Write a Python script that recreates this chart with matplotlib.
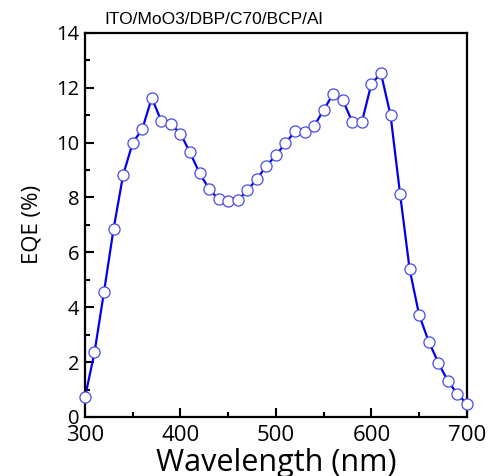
import matplotlib
matplotlib.use("Agg")
import matplotlib.pyplot as plt
from matplotlib.ticker import MultipleLocator

wavelength = [300, 310, 320, 330, 340, 350, 360, 370, 380, 390, 400, 410, 420, 430,
              440, 450, 460, 470, 480, 490, 500, 510, 520, 530, 540, 550, 560, 570,
              580, 590, 600, 610, 620, 630, 640, 650, 660, 670, 680, 690, 700]
eqe = [0.71, 2.35, 4.57, 6.86, 8.82, 9.99, 10.49, 11.63, 10.78, 10.67, 10.33, 9.64,
       8.89, 8.31, 7.93, 7.86, 7.89, 8.26, 8.67, 9.15, 9.54, 9.98, 10.41, 10.40,
       10.61, 11.19, 11.78, 11.55, 10.75, 10.75, 12.15, 12.52, 11.00, 8.12, 5.38,
       3.71, 2.75, 1.98, 1.31, 0.84, 0.47]

title_text = "ITO/MoO3/DBP/C70/BCP/Al"
x_label = "Wavelength (nm)"
y_label = "EQE (%)"

fig = plt.figure(figsize=(4.91, 4.76), dpi=100)
ax = fig.add_axes([0.173, 0.124, 0.778, 0.807])

ax.plot(wavelength, eqe, color="#0000ee", lw=1.6, zorder=2)
ax.plot(wavelength, eqe, ls="none", marker="o", ms=8, mfc="white",
        mec="#4a4ae6", mew=0.9, zorder=3, clip_on=False)

ax.set_xlim(300, 700)
ax.set_ylim(0, 14)
ax.xaxis.set_major_locator(MultipleLocator(100))
ax.xaxis.set_minor_locator(MultipleLocator(50))
ax.yaxis.set_major_locator(MultipleLocator(2))
ax.yaxis.set_minor_locator(MultipleLocator(1))
ax.tick_params(which="both", direction="in", top=False, right=False, width=1.5)
ax.tick_params(which="major", length=6.5)
ax.tick_params(axis="x", which="major", pad=6)
ax.tick_params(axis="y", which="major", pad=4)
ax.tick_params(which="minor", length=3.5)
for s in ax.spines.values():
    s.set_linewidth(1.6)

font = "Open Sans"
for lab in ax.get_xticklabels():
    lab.set_fontfamily(font)
    lab.set_fontsize(16)
for lab in ax.get_yticklabels():
    lab.set_fontfamily(font)
    lab.set_fontsize(14.5)

ax.set_xlabel(x_label, fontfamily=font, fontsize=22, labelpad=1)
ax.set_ylabel(y_label, fontfamily=font, fontsize=16, labelpad=10)
fig.text(0.213, 0.958, title_text, fontfamily="Liberation Sans", fontsize=12.5,
         va="center", ha="left")

fig.savefig("out.png", dpi=100)
